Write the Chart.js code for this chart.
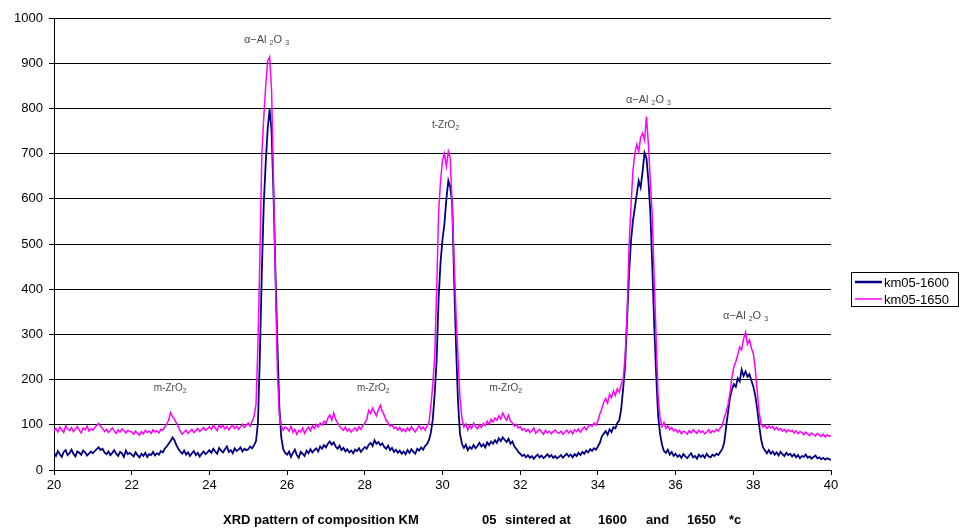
<!DOCTYPE html>
<html>
<head>
<meta charset="utf-8">
<title>XRD pattern KM05</title>
<script src="https://cdn.jsdelivr.net/npm/chart.js@4.4.0/dist/chart.umd.min.js"></script>
<style>
  html, body { margin: 0; padding: 0; background: #fff; }
  #wrap { width: 960px; height: 530px; position: relative; }
</style>
</head>
<body>
<div id="wrap"><canvas id="xrd" width="960" height="530"></canvas></div>
<script>
//DATA

// 2-theta grid, 20 to 40 deg in 0.05 deg steps (401 points)
const angleStart = 20;
const angleStep = 0.05;
const angleCount = 401;

// intensity (counts), one row per degree
const km05_1600 = [
  38, 31, 42, 35, 29, 40, 44, 33, 37, 45, 36, 30, 41, 38, 34, 43, 39, 32, 36, 41,
  37, 42, 46, 50, 44, 47, 39, 35, 41, 33, 38, 44, 36, 31, 40, 37, 29, 43, 35, 38,
  34, 30, 39, 33, 28, 36, 31, 38, 29, 35, 33, 40, 32, 37, 34, 42, 39, 47, 52, 58,
  64, 72, 66, 55, 47, 41, 36, 43, 34, 39, 31, 37, 42, 33, 38, 30, 36, 41, 35, 39,
  44, 38, 47, 41, 36, 49, 43, 39, 46, 52, 40, 44, 37, 48, 42, 45, 50, 41, 47, 44,
  46, 52, 48, 55, 64, 105, 255, 440, 590, 680, 755, 798, 750, 610, 440, 280, 140, 72, 46, 38,
  34, 41, 29, 38, 45, 33, 27, 40, 36, 31, 43, 37, 46, 39, 44, 48, 41, 52, 47, 55,
  50, 58, 63, 56, 61, 52, 47, 54, 44, 49, 41, 46, 39, 43, 37, 45, 42, 48, 40, 46,
  51, 47, 56, 60, 53, 66, 58, 62, 55, 59, 51, 47, 54, 44, 49, 40, 45, 38, 43, 36,
  41, 35, 44, 38, 46, 40, 36, 47, 43, 50, 45, 53, 57, 66, 82, 112, 170, 245, 380, 460,
  510, 545, 600, 640, 625, 590, 420, 270, 150, 80, 58, 49, 56, 44, 51, 47, 55, 48, 53, 60,
  52, 57, 50, 61, 55, 63, 58, 66, 60, 70, 64, 72, 67, 62, 69, 58, 63, 52, 47, 40,
  36, 31, 34, 28, 33, 27, 31, 25, 30, 34, 28, 32, 26, 30, 35, 29, 33, 27, 31, 26,
  29, 33, 27, 32, 36, 30, 34, 28, 35, 31, 38, 33, 40, 36, 43, 39, 46, 42, 48, 45,
  52, 60, 74, 80, 86, 78, 90, 84, 95, 92, 104, 110, 135, 180, 230, 330, 430, 505, 550, 580,
  610, 640, 625, 660, 702, 690, 640, 570, 450, 320, 210, 120, 80, 56, 42, 38, 45, 34, 40, 31,
  36, 29, 33, 27, 35, 30, 26, 32, 37, 28, 31, 25, 34, 29, 33, 27, 36, 30, 28, 34,
  31, 36, 33, 40, 46, 60, 95, 128, 160, 178, 190, 184, 203, 196, 222, 208, 218, 206, 212, 198,
  185, 165, 135, 100, 68, 50, 43, 37, 44, 36, 41, 34, 39, 32, 40, 35, 31, 38, 33, 36,
  30, 35, 28, 33, 26, 31, 29, 34, 27, 30, 25, 29, 32, 26, 28, 24, 27, 23, 26, 24,
  22
];

const km05_1650 = [
  86, 92, 84, 95, 89, 83, 98, 91, 87, 94, 85, 90, 96, 88, 82, 93, 89, 97, 86, 91,
  88, 94, 99, 103, 96, 92, 85, 90, 83, 88, 93, 86, 81, 89, 84, 91, 87, 82, 88, 85,
  84, 79, 86, 81, 77, 85, 80, 88, 83, 86, 81, 89, 84, 87, 82, 90, 88, 95, 102, 110,
  127, 118, 112, 104, 96, 86, 79, 84, 88, 81, 86, 90, 83, 87, 92, 85, 89, 94, 88, 91,
  96, 90, 99, 93, 87, 100, 94, 98, 91, 96, 89, 95, 99, 92, 97, 90, 96, 101, 94, 99,
  104, 97, 108, 118, 145, 280, 470, 700, 780, 850, 905, 914, 840, 640, 420, 220, 120, 98, 88, 95,
  92, 86, 97, 83, 90, 79, 88, 84, 93, 81, 89, 95, 87, 98, 92, 101, 95, 104, 99, 108,
  103, 115, 122, 110, 126, 112, 104, 97, 92, 88, 95, 86, 91, 84, 89, 93, 87, 96, 90, 98,
  104, 112, 132, 125, 137, 128, 120, 133, 143, 130, 121, 110, 104, 97, 100, 92, 95, 88, 94, 86,
  91, 85, 93, 87, 96, 89, 84, 92, 98, 90, 95, 88, 97, 104, 140, 190, 250, 400, 570, 640,
  685, 700, 672, 705, 690, 580, 460, 340, 250, 160, 115, 95, 102, 88, 99, 92, 104, 96, 91, 100,
  94, 103, 98, 108, 101, 112, 106, 115, 110, 120, 113, 126, 117, 110, 121, 108, 104, 97, 101, 93,
  96, 88, 92, 85, 90, 83, 87, 93, 81, 86, 90, 84, 79, 88, 82, 86, 80, 85, 89, 83,
  81, 86, 79, 84, 88, 82, 87, 80, 89, 85, 91, 84, 90, 95, 89, 96, 100, 97, 104, 99,
  108, 124, 135, 150, 158, 148, 168, 160, 175, 165, 180, 172, 190, 200, 250, 340, 490, 580, 660, 700,
  720, 705, 735, 745, 730, 782, 720, 640, 560, 420, 290, 165, 115, 96, 105, 92, 98, 89, 94, 86,
  90, 83, 88, 80, 86, 84, 79, 87, 82, 89, 85, 81, 88, 83, 86, 80, 84, 89, 82, 87,
  84, 90, 86, 93, 98, 115, 128, 145, 170, 205, 228, 240, 255, 272, 266, 290, 305, 278, 288, 270,
  258, 225, 175, 128, 102, 95, 99, 92, 97, 93, 96, 89, 94, 88, 92, 86, 90, 84, 89, 85,
  88, 82, 87, 80, 85, 83, 78, 84, 80, 76, 82, 79, 75, 81, 77, 74, 79, 73, 78, 75,
  76
];

const seriesNames = ['km05-1600', 'km05-1650'];
const seriesColors = ['#000080', '#ff00ff'];

const xTicks = [20, 22, 24, 26, 28, 30, 32, 34, 36, 38, 40];
const yTicks = [0, 100, 200, 300, 400, 500, 600, 700, 800, 900, 1000];

// phase labels placed in data units (2-theta, counts)
const phaseLabels = [
  { x: 25.47, y: 951, text: 'Al2O3' },
  { x: 35.30, y: 819, text: 'Al2O3' },
  { x: 37.80, y: 341, text: 'Al2O3' },
  { x: 30.08, y: 763, text: 't-ZrO2' },
  { x: 22.99, y: 181, text: 'm-ZrO2' },
  { x: 28.22, y: 181, text: 'm-ZrO2' },
  { x: 31.63, y: 181, text: 'm-ZrO2' }
];

const captionParts = [
  ['XRD pattern of composition KM', 223],
  ['05', 482],
  ['sintered at', 505],
  ['1600', 598],
  ['and', 646],
  ['1650', 687],
  ['*c', 729]
];

const angles = [];
for (let i = 0; i < angleCount; i += 1) {
  angles.push(+(angleStart + i * angleStep).toFixed(2));
}

const toPoints = (values) => values.map((v, i) => ({ x: angles[i], y: v }));

//PLUGIN: phase labels, legend box and caption

const FONT = '"Liberation Sans", Arial, sans-serif';

const extras = {
  id: 'extras',
  afterDraw(chart) {
    const ctx = chart.ctx;
    const xs = chart.scales.x;
    const ys = chart.scales.y;
    ctx.save();

    // phase labels with subscripts
    ctx.fillStyle = '#4a4a4a';
    ctx.textBaseline = 'middle';
    phaseLabels.forEach((lab) => {
      let pieces;
      if (lab.text === 'Al2O3') {
        pieces = [['\u03b1\u2212Al ', false], ['2', true], ['O ', false], ['3', true]];
      } else if (lab.text === 't-ZrO2') {
        pieces = [['t-ZrO', false], ['2', true]];
      } else {
        pieces = [['m-ZrO', false], ['2', true]];
      }
      const big = lab.text === 'Al2O3' ? 11 : 10;
      let total = 0;
      pieces.forEach((p) => {
        ctx.font = (p[1] ? 7 : big) + 'px ' + FONT;
        total += ctx.measureText(p[0]).width;
      });
      let px = xs.getPixelForValue(lab.x) - total / 2;
      const py = ys.getPixelForValue(lab.y);
      ctx.textAlign = 'left';
      pieces.forEach((p) => {
        ctx.font = (p[1] ? 7 : big) + 'px ' + FONT;
        ctx.fillText(p[0], px, p[1] ? py + 3 : py);
        px += ctx.measureText(p[0]).width;
      });
    });

    // legend
    const boxLeft = 851, boxTop = 272, boxW = 108, boxH = 35;
    ctx.fillStyle = '#fff';
    ctx.fillRect(boxLeft, boxTop, boxW, boxH);
    ctx.strokeStyle = '#000';
    ctx.lineWidth = 1;
    ctx.strokeRect(boxLeft + 0.5, boxTop + 0.5, boxW - 1, boxH - 1);
    ctx.font = '13px ' + FONT;
    ctx.textAlign = 'left';
    seriesNames.forEach((name, i) => {
      const ly = boxTop + 10 + i * 17;
      ctx.strokeStyle = seriesColors[i];
      ctx.lineWidth = i === 0 ? 2.5 : 1.5;
      ctx.beginPath();
      ctx.moveTo(855, ly);
      ctx.lineTo(882, ly);
      ctx.stroke();
      ctx.fillStyle = '#000';
      ctx.fillText(name, 884, ly + 1);
    });

    // caption under the x axis
    ctx.font = 'bold 13px ' + FONT;
    ctx.fillStyle = '#000';
    captionParts.forEach((part) => {
      ctx.fillText(part[0], part[1], 520);
    });

    ctx.restore();
  }
};

//LINE CHART

const xrd = document.getElementById('xrd').getContext('2d');
const xrdChart = new Chart(xrd, {
  type: 'line',
  data: {
    datasets: [
      {
        label: seriesNames[0],
        data: toPoints(km05_1600),
        borderColor: seriesColors[0],
        borderWidth: 1.8,
        pointRadius: 0,
        tension: 0,
        order: 1
      },
      {
        label: seriesNames[1],
        data: toPoints(km05_1650),
        borderColor: seriesColors[1],
        borderWidth: 1.5,
        pointRadius: 0,
        tension: 0,
        order: 0
      }
    ]
  },
  options: {
    responsive: false,
    animation: false,
    events: [],
    layout: {
      padding: { top: 18, right: 129, bottom: 0, left: 0 }
    },
    plugins: {
      legend: { display: false },
      tooltip: { enabled: false }
    },
    scales: {
      x: {
        type: 'linear',
        min: xTicks[0],
        max: xTicks[xTicks.length - 1],
        afterBuildTicks: (scale) => { scale.ticks = xTicks.map((v) => ({ value: v })); },
        afterFit: (scale) => { scale.height = 60; },
        ticks: {
          color: '#000',
          font: { family: FONT, size: 13 },
          padding: 3,
          maxRotation: 0,
          callback: (value) => String(value)
        },
        grid: {
          drawOnChartArea: false,
          drawTicks: true,
          tickLength: 5,
          color: '#000'
        },
        border: { color: '#000', width: 1 }
      },
      y: {
        min: yTicks[0],
        max: yTicks[yTicks.length - 1],
        afterBuildTicks: (scale) => { scale.ticks = yTicks.map((v) => ({ value: v })); },
        afterFit: (scale) => { scale.width = 54; },
        ticks: {
          color: '#000',
          font: { family: FONT, size: 13 },
          padding: 6,
          callback: (value) => String(value)
        },
        grid: {
          color: '#000',
          lineWidth: 1,
          drawTicks: true,
          tickLength: 5
        },
        border: { color: '#000', width: 1 }
      }
    }
  },
  plugins: [extras]
});
</script>
</body>
</html>
